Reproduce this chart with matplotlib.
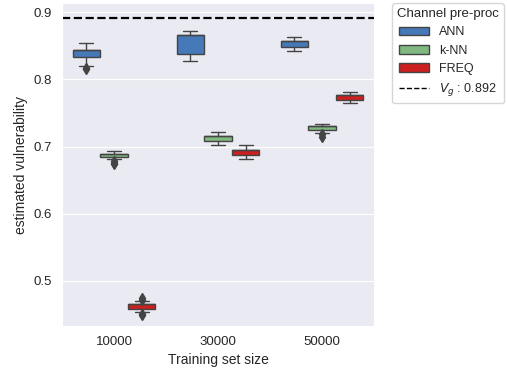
import matplotlib

matplotlib.use("Agg")

import matplotlib.pyplot as plt
from matplotlib.patches import Patch
from matplotlib.lines import Line2D
import seaborn as sns

sns.set_style("darkgrid")
plt.rcParams["font.family"] = ["Liberation Sans", "DejaVu Sans"]

# box statistics
sizes = ["10000", "30000", "50000"]
methods = ["ANN", "k-NN", "FREQ"]
colors = ["#4579b8", "#80b880", "#cc2020"]

whislo = {
    "ANN": [0.820, 0.828, 0.842],
    "k-NN": [0.682, 0.7025, 0.720],
    "FREQ": [0.454, 0.681, 0.765],
}
q1 = {
    "ANN": [0.833, 0.838, 0.849],
    "k-NN": [0.684, 0.708, 0.725],
    "FREQ": [0.458, 0.688, 0.770],
}
med = {
    "ANN": [0.844, 0.867, 0.858],
    "k-NN": [0.689, 0.715, 0.731],
    "FREQ": [0.465, 0.695, 0.777],
}
q3 = {
    "ANN": [0.844, 0.867, 0.858],
    "k-NN": [0.689, 0.715, 0.731],
    "FREQ": [0.465, 0.695, 0.777],
}
whishi = {
    "ANN": [0.854, 0.873, 0.863],
    "k-NN": [0.6935, 0.721, 0.733],
    "FREQ": [0.470, 0.702, 0.781],
}
fliers = {
    "ANN": [[0.817, 0.815], [], []],
    "k-NN": [[0.678, 0.676, 0.674], [], [0.718, 0.714]],
    "FREQ": [[0.474, 0.472, 0.451, 0.449], [], []],
}
v_g = 0.892

fig = plt.figure(figsize=(5.07, 3.72), dpi=100)
ax = fig.add_axes([62 / 507, 1 - 326 / 372, 312 / 507, 323 / 372])
ax.grid(False, axis="x")

gray = "#444444"
step = 0.8 / len(methods)
for j, m in enumerate(methods):
    stats = []
    positions = []
    for i in range(len(sizes)):
        stats.append({
            "whislo": whislo[m][i],
            "q1": q1[m][i],
            "med": med[m][i],
            "q3": q3[m][i],
            "whishi": whishi[m][i],
            "fliers": fliers[m][i],
        })
        positions.append(i + (j - 1) * step)
    ax.bxp(
        stats,
        positions=positions,
        widths=step * 0.98,
        patch_artist=True,
        showfliers=True,
        boxprops=dict(facecolor=colors[j], edgecolor=gray, linewidth=1.0),
        whiskerprops=dict(color=gray, linewidth=1.0),
        capprops=dict(color=gray, linewidth=1.0),
        medianprops=dict(color=gray, linewidth=1.0),
        flierprops=dict(marker="d", markerfacecolor=gray, markeredgecolor=gray,
                        markersize=5.5),
        manage_ticks=False,
    )

ax.axhline(v_g, color="black", linestyle="--", linewidth=1.6)

ax.set_xlim(-0.5, len(sizes) - 0.5)
ax.set_ylim(0.4325, 0.914)
ax.set_xticks(range(len(sizes)))
ax.set_xticklabels(sizes)
ax.set_yticks([0.5, 0.6, 0.7, 0.8, 0.9])
ax.tick_params(labelsize=9.5, colors="#262626")
ax.set_xlabel("Training set size", fontsize=10, color="#262626")
ax.set_ylabel("estimated vulnerability", fontsize=10, color="#262626")

handles = [Patch(facecolor=c, edgecolor=gray) for c in colors]
handles.append(Line2D([], [], color="black", linestyle="--", linewidth=1))
labels = methods + [r"$V_g$ : %.3f" % v_g]
leg = fig.legend(
    handles, labels,
    title="Channel pre-proc",
    loc="upper left",
    bbox_to_anchor=(392 / 507, 1 - 3 / 372),
    bbox_transform=fig.transFigure,
    fontsize=9,
    title_fontsize=9.5,
    borderaxespad=0,
    labelspacing=0.5,
    handlelength=2.4,
    facecolor="white",
    edgecolor="#cccccc",
)

plt.savefig("out.png", dpi=100)
